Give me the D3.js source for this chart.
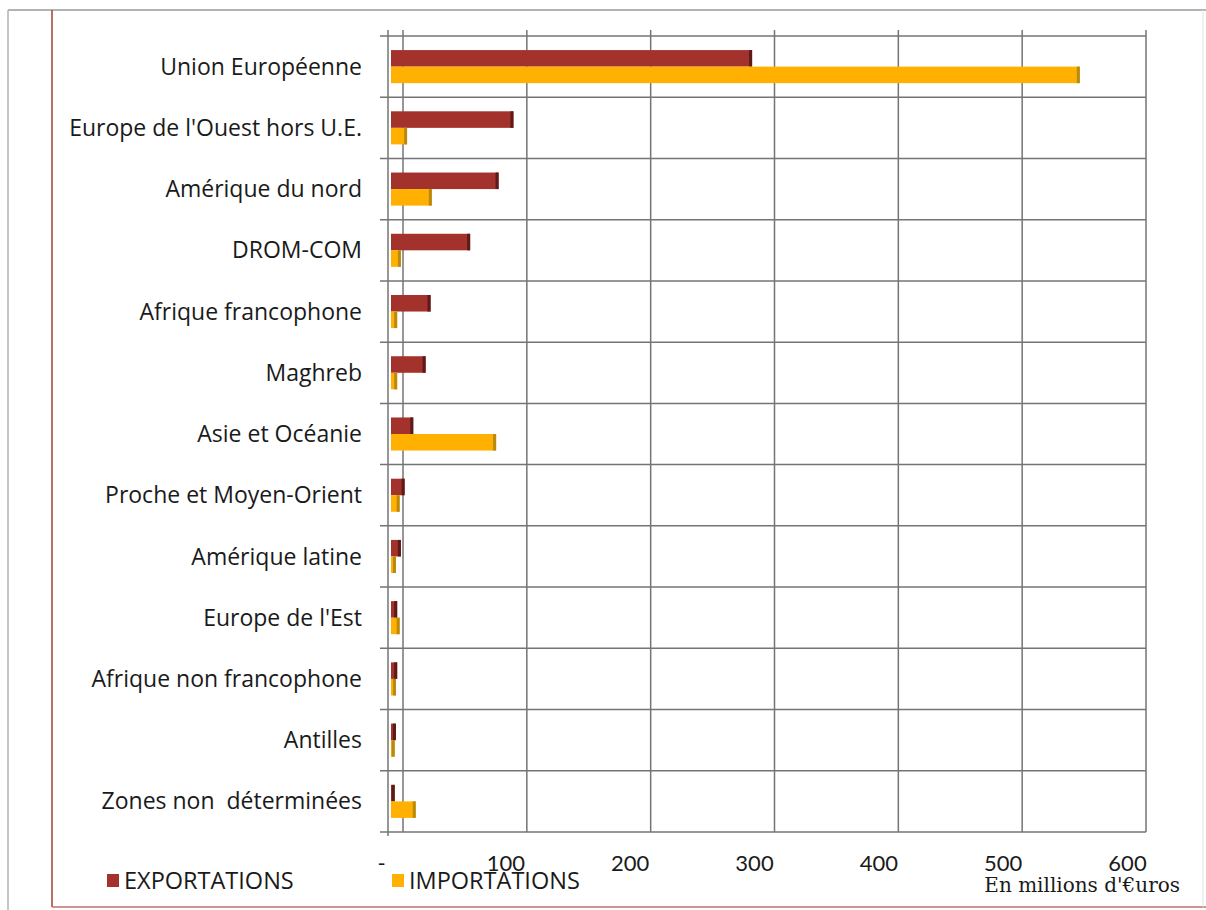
<!DOCTYPE html>
<html>
<head>
<meta charset="utf-8">
<script src="https://cdn.jsdelivr.net/npm/d3@7"></script>
<style>
  html, body { margin: 0; padding: 0; background: #fff; }
  svg { display: block; }
  text { font-family: "Open Sans", Lato, sans-serif; fill: #1a1a1a; white-space: pre; }
</style>
</head>
<body>
<div id="chart"></div>
<script>
var width = 1206, height = 910;

// data (millions d'euros)
var categories = [
  "Union Européenne",
  "Europe de l'Ouest hors U.E.",
  "Amérique du nord",
  "DROM-COM",
  "Afrique francophone",
  "Maghreb",
  "Asie et Océanie",
  "Proche et Moyen-Orient",
  "Amérique latine",
  "Europe de l'Est",
  "Afrique non francophone",
  "Antilles",
  "Zones non  déterminées"
];
var exportations = [292, 99, 87, 64, 32, 28, 18, 11, 8, 5, 5, 4, 3];
var importations = [557, 13, 33, 8, 5, 5, 85, 7, 4, 7, 4, 3, 20];
var seriesNames = ["EXPORTATIONS", "IMPORTATIONS"];
var tickValues = [0, 100, 200, 300, 400, 500, 600];

var colors = { EXPORTATIONS: "#a3312c", IMPORTATIONS: "#ffb000" };
var caps = { EXPORTATIONS: "#5c1a18", IMPORTATIONS: "#b88a12" };

var svg = d3.select("#chart")
  .append("svg")
  .attr("width", width)
  .attr("height", height);

// outer frame (scan edges)
svg.append("line").attr("x1", 8).attr("x2", width).attr("y1", 10).attr("y2", 10)
  .attr("stroke", "#9a9a9a").attr("stroke-width", 1.5);
svg.append("line").attr("x1", 8).attr("x2", 8).attr("y1", 10).attr("y2", height)
  .attr("stroke", "#b0b0b0").attr("stroke-width", 1.5);
svg.append("line").attr("x1", 52).attr("x2", 52).attr("y1", 10).attr("y2", 907)
  .attr("stroke", "#a0402e").attr("stroke-width", 1.5);
svg.append("line").attr("x1", 52).attr("x2", width).attr("y1", 907).attr("y2", 907)
  .attr("stroke", "#c07070").attr("stroke-width", 1.5);
svg.append("line").attr("x1", 1203).attr("x2", 1203).attr("y1", 10).attr("y2", 907)
  .attr("stroke", "#e2e2e2").attr("stroke-width", 1);

// scales: bars sit on the front plane, the grid on the back wall (3D offset)
var x = d3.scaleLinear().domain([0, 600]).range([391, 1133]);
var xGrid = d3.scaleLinear().domain([0, 600]).range([403, 1146]);
var y = d3.scaleBand().domain(categories).range([36, 832]);
var ySeries = d3.scaleBand().domain(seriesNames).range([y.bandwidth() * 0.23, y.bandwidth() * 0.77]);

var grid = svg.append("g").attr("class", "grid")
  .attr("stroke", "#747474").attr("stroke-width", 1.5);

// vertical gridlines
grid.selectAll("line.v")
  .data(tickValues)
  .enter().append("line")
  .attr("class", "v")
  .attr("x1", function(d) { return xGrid(d); })
  .attr("x2", function(d) { return xGrid(d); })
  .attr("y1", 30)
  .attr("y2", 832);

// horizontal gridlines at band edges
var edges = categories.map(function(c) { return y(c); }).concat([y.range()[1]]);
grid.selectAll("line.h")
  .data(edges)
  .enter().append("line")
  .attr("class", "h")
  .attr("x1", 380)
  .attr("x2", xGrid(600))
  .attr("y1", function(d) { return d; })
  .attr("y2", function(d) { return d; });

// left wall edge
grid.append("line")
  .attr("x1", 388).attr("x2", 388)
  .attr("y1", 30).attr("y2", 836);

// bars
var rows = categories.map(function(c, i) {
  return { cat: c, values: [
    { key: "EXPORTATIONS", value: exportations[i] },
    { key: "IMPORTATIONS", value: importations[i] }
  ] };
});

var row = svg.append("g").attr("class", "bars")
  .selectAll("g")
  .data(rows)
  .enter().append("g")
  .attr("transform", function(d) { return "translate(0," + y(d.cat) + ")"; });

var bar = row.selectAll("g")
  .data(function(d) { return d.values; })
  .enter().append("g");

bar.append("rect")
  .attr("x", x(0))
  .attr("y", function(d) { return ySeries(d.key); })
  .attr("width", function(d) { return x(d.value) - x(0); })
  .attr("height", ySeries.bandwidth())
  .attr("fill", function(d) { return colors[d.key]; });

// darker end face of the 3D bars
bar.append("rect")
  .attr("x", function(d) { return x(d.value) - 3; })
  .attr("y", function(d) { return ySeries(d.key); })
  .attr("width", 3)
  .attr("height", ySeries.bandwidth())
  .attr("fill", function(d) { return caps[d.key]; });

// category labels
svg.append("g").attr("class", "labels")
  .selectAll("text")
  .data(categories)
  .enter().append("text")
  .attr("x", 362)
  .attr("y", function(d) { return y(d) + y.bandwidth() / 2; })
  .attr("dy", "0.35em")
  .attr("text-anchor", "end")
  .style("font-size", "23px")
  .text(function(d) { return d; });

// x axis labels
var xAxis = d3.axisBottom(d3.scaleLinear().domain([0, 600]).range([381, 1127]))
  .tickValues(tickValues)
  .tickSize(0)
  .tickFormat(function(d) { return d === 0 ? "-" : d; });

svg.append("g")
  .attr("transform", "translate(0,852)")
  .call(xAxis)
  .call(function(g) { g.select(".domain").remove(); })
  .selectAll("text")
  .style("font-family", "Lato, sans-serif")
  .style("font-size", "22px")
  .attr("fill", "#1a1a1a");

svg.append("text")
  .attr("x", 1180)
  .attr("y", 892)
  .attr("text-anchor", "end")
  .style("font-family", "'DejaVu Serif', 'Liberation Serif', serif")
  .style("font-size", "20px")
  .text("En millions d'€uros");

// legend
var legendX = { EXPORTATIONS: 107, IMPORTATIONS: 392 };
var legend = svg.append("g").attr("class", "legend")
  .selectAll("g")
  .data(seriesNames)
  .enter().append("g")
  .attr("transform", function(d) { return "translate(" + legendX[d] + ",874)"; });

legend.append("rect")
  .attr("width", 12).attr("height", 13)
  .attr("fill", function(d) { return colors[d]; });

legend.append("text")
  .attr("x", 17)
  .attr("y", 7)
  .attr("dy", "0.36em")
  .style("font-size", "23.5px")
  .text(function(d) { return d; });
</script>
</body>
</html>
